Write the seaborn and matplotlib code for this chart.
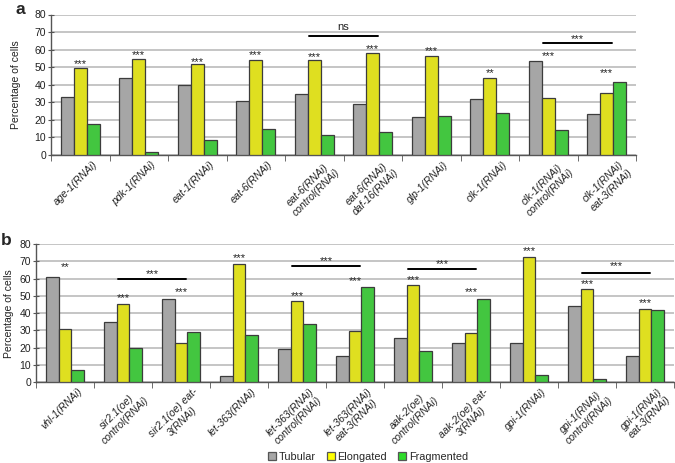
import matplotlib
matplotlib.use("Agg")
import matplotlib.pyplot as plt
import matplotlib.transforms as mtransforms
from matplotlib.patches import Patch
import pandas as pd
import seaborn as sns

# panel a
groups_a = ["age-1(RNAi)", "pdk-1(RNAi)", "eat-1(RNAi)", "eat-6(RNAi)",
            "eat-6(RNAi)\ncontrol(RNAi)", "eat-6(RNAi)\ndaf-16(RNAi)",
            "glp-1(RNAi)", "clk-1(RNAi)", "clk-1(RNAi)\ncontrol(RNAi)",
            "clk-1(RNAi)\neat-3(RNAi)"]
tubular_a = [33, 43.6, 39.8, 30.9, 34.5, 29.2, 21.4, 32, 53.3, 23.5]
elongated_a = [49.3, 54.4, 51.6, 54.2, 54, 57.8, 56.1, 43.8, 32.6, 35.1]
fragmented_a = [17.6, 1.9, 8.3, 14.8, 11.4, 12.9, 22.4, 23.9, 14, 41.3]
stars_a = ["***", "***", "***", "***", "***", "***", "***", "**", "***", "***"]
stars_a_y = [52.7, 57.8, 54, 57.8, 56.7, 61.2, 60.1, 47.8, 57.4, 47.8]
brackets_a = [(4, 5, 67.7, "ns", 73), (8, 9, 63.9, "***", 67)]

# panel b
groups_b = ["vhl-1(RNAi)", "sir2.1(oe)\ncontrol(RNAi)", "sir2.1(oe) eat-\n3(RNAi)",
            "let-363(RNAi)", "let-363(RNAi)\ncontrol(RNAi)", "let-363(RNAi)\neat-3(RNAi)",
            "aak-2(oe)\ncontrol(RNAi)", "aak-2(oe) eat-\n3(RNAi)", "gpi-1(RNAi)",
            "gpi-1(RNAi)\ncontrol(RNAi)", "gpi-1(RNAi)\neat-3(RNAi)"]
tubular_b = [61, 34.8, 48.2, 3.9, 19.4, 15, 25.4, 22.9, 22.7, 43.9, 15.3]
elongated_b = [31.1, 45.2, 22.5, 68.5, 47, 29.7, 56.1, 28.5, 72.7, 53.8, 42.3]
fragmented_b = [7.4, 19.6, 29.1, 27.2, 33.8, 55.1, 18.1, 48.2, 4.1, 2.1, 41.7]
stars_b = ["**", "***", "***", "***", "***", "***", "***", "***", "***", "***", "***"]
stars_b_y = [67.4, 50, 53, 72.8, 51, 59.3, 60, 53, 77, 58, 47]
brackets_b = [(1, 2, 59.7, "***", 63.5), (4, 5, 67, "***", 71),
              (6, 7, 65.5, "***", 69.3), (9, 10, 63.5, "***", 68)]

types = ["Tubular", "Elongated", "Fragmented"]
colors = ["#a6a6a6", "#ffff00", "#2edc2a"]

sns.set_style("white")
plt.rcParams["font.family"] = ["Liberation Sans", "DejaVu Sans"]


def long_df(groups, t, e, f):
    rows = []
    for vals, name in zip([t, e, f], types):
        for g, v in zip(groups, vals):
            rows.append({"group": g, "type": name, "value": v})
    return pd.DataFrame(rows)


def panel(ax, groups, t, e, f, stars, stars_y, brackets, ylab_x):
    df = long_df(groups, t, e, f)
    sns.barplot(data=df, x="group", y="value", hue="type", order=groups,
                hue_order=types, palette=colors, width=0.66, ax=ax,
                edgecolor="#3c3c3c", linewidth=0.9, legend=False, zorder=3)
    n = len(groups)
    ax.set_xlim(-0.5, n - 0.5)
    ax.set_ylim(0, 80)
    ax.set_yticks(range(0, 81, 10))
    ax.yaxis.grid(True, color="#b5b5b5", linewidth=1.1, zorder=0)
    ax.set_axisbelow(True)
    for s in ["top", "right"]:
        ax.spines[s].set_visible(False)
    for s in ["left", "bottom"]:
        ax.spines[s].set_color("#555555")
        ax.spines[s].set_linewidth(1)
    ax.tick_params(axis="y", left=True, length=4, direction="inout", color="#555555",
                   labelsize=7.5, pad=1.5, labelcolor="#222222")
    ax.set_xticks([i - 0.5 for i in range(n + 1)], minor=True)
    ax.tick_params(axis="x", which="minor", bottom=True, length=4, color="#555555")
    ax.tick_params(axis="x", which="major", length=0, pad=3)
    ax.set_xticks(range(n))
    ax.set_xticklabels(groups, rotation=45, ha="right", rotation_mode="anchor",
                       fontsize=7.5, style="italic", color="#222222",
                       multialignment="center")
    off = mtransforms.ScaledTranslation(0.12, 0, ax.figure.dpi_scale_trans)
    for lab in ax.get_xticklabels():
        lab.set_transform(lab.get_transform() + off)
    ax.set_xlabel("")
    ax.set_ylabel("Percentage of cells", fontsize=7.5, color="#222222")
    ax.yaxis.set_label_coords(ylab_x, 0.5)
    for i, (s, y) in enumerate(zip(stars, stars_y)):
        ax.text(i, y - 1, s, ha="center", va="center", fontsize=8, color="#222222")
    for a, b, y, s, ty in brackets:
        ax.plot([a - 0.09, b + 0.09], [y, y], color="black", linewidth=1.4, zorder=4)
        ax.text((a + b) / 2, ty - (0 if s == "ns" else 1), s, ha="center", va="center",
                fontsize=8, color="#222222")


fig = plt.figure(figsize=(6.75, 4.63), dpi=100)
ax_a = fig.add_axes([51 / 675, 1 - 155 / 463, 585 / 675, 140.5 / 463])
ax_b = fig.add_axes([36 / 675, 1 - 382.3 / 463, 638 / 675, 138.3 / 463])

panel(ax_a, groups_a, tubular_a, elongated_a, fragmented_a, stars_a, stars_a_y,
      brackets_a, (21 - 51) / 585)
panel(ax_b, groups_b, tubular_b, elongated_b, fragmented_b, stars_b, stars_b_y,
      brackets_b, (14 - 36) / 638)

fig.text(20 / 675, 1 - 10 / 463, "a", fontsize=12.5, fontweight="bold", ha="center", va="center")
fig.text(6 / 675, 1 - 241 / 463, "b", fontsize=12.5, fontweight="bold", ha="center", va="center")

handles = [Patch(facecolor=c, edgecolor="#555555", linewidth=0.9) for c in colors]
fig.legend(handles, types, loc="center", bbox_to_anchor=(368 / 675, 1 - 457 / 463),
           ncol=3, frameon=False, fontsize=7.8, handlelength=0.75, handleheight=0.75,
           handletextpad=0.25, columnspacing=1.0)

fig.savefig("out.png", dpi=100)
